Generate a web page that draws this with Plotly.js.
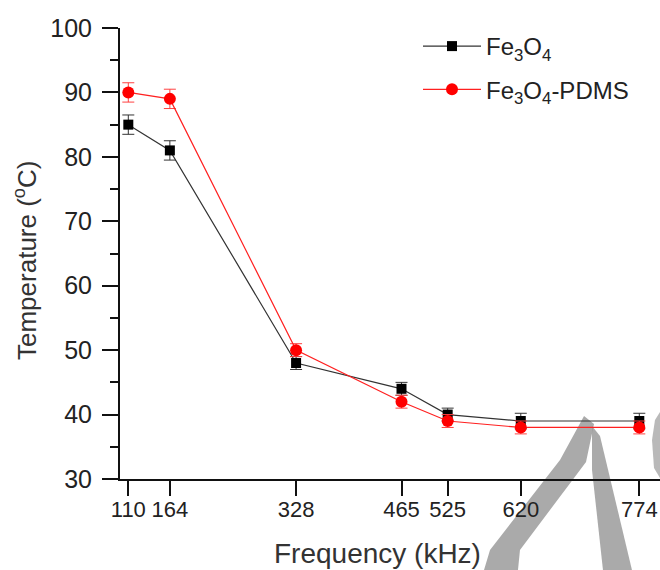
<!DOCTYPE html>
<html>
<head>
<meta charset="utf-8">
<script src="https://cdn.plot.ly/plotly-3.0.1.min.js"></script>
<style>html,body{margin:0;padding:0;background:#fff;}#chart{width:660px;height:570px;}</style>
</head>
<body>
<div id="chart"></div>
<script>
var frequency = [110, 164, 328, 465, 525, 620, 774];
var tickLabels = ["110", "164", "328", "465", "525", "620", "774"];
var fe3o4 = [85, 81, 48, 44, 40, 39, 39];
var fe3o4Err = [1.5, 1.5, 1.0, 1.0, 1.0, 1.2, 1.2];
var fe3o4Pdms = [90, 89, 50, 42, 39, 38, 38];
var fe3o4PdmsErr = [1.5, 1.5, 1.0, 1.0, 1.0, 1.0, 1.0];

var L = 120, R = 660, T = 28, B = 479;
function px(x){ return (x - L) / (R - L); }
function py(y){ return (B - y) / (B - T); }
function path(pts){
  return pts.map(function(p, i){ return (i ? 'L' : 'M') + px(p[0]).toFixed(4) + ',' + py(p[1]).toFixed(4); }).join(' ') + ' Z';
}

var font = "Arial, 'Liberation Sans', sans-serif";

var traces = [
  {
    x: frequency, y: fe3o4, name: 'Fe<sub>3</sub>O<sub>4</sub>', legendgroup: 'a',
    type: 'scatter', mode: 'lines+markers',
    line: {color: '#333333', width: 1.2},
    marker: {symbol: 'square', size: 10, color: '#000000'},
    error_y: {type: 'data', array: fe3o4Err, visible: true, color: '#333333', thickness: 1, width: 6}
  },
  {
    x: frequency, y: fe3o4Pdms, name: 'Fe<sub>3</sub>O<sub>4</sub>-PDMS', legendgroup: 'b',
    type: 'scatter', mode: 'lines+markers',
    line: {color: '#ff2020', width: 1.2},
    marker: {symbol: 'circle', size: 12, color: '#ff0000'},
    error_y: {type: 'data', array: fe3o4PdmsErr, visible: true, color: '#ff4040', thickness: 1, width: 6}
  }
];

var layout = {
  width: 660, height: 570,
  margin: {l: L, r: 660 - R, t: T, b: 570 - B, pad: 0},
  paper_bgcolor: '#ffffff', plot_bgcolor: 'rgba(0,0,0,0)',
  showlegend: true,
  legend: {
    x: px(418), y: py(24), xanchor: 'left', yanchor: 'top',
    bgcolor: 'rgba(0,0,0,0)', borderwidth: 0,
    font: {family: font, size: 24, color: '#222222'},
    itemwidth: 58, traceorder: 'grouped', tracegroupgap: 9
  },
  xaxis: {
    range: [99.2, 800.9],
    tickmode: 'array', tickvals: frequency, ticktext: tickLabels,
    tickangle: 0, automargin: false,
    showline: true, linecolor: '#111111', linewidth: 2,
    ticks: 'outside', ticklen: 15, tickwidth: 2, tickcolor: '#111111',
    ticklabelstandoff: -5,
    showgrid: false, zeroline: false,
    tickfont: {family: font, size: 22, color: '#222222'}
  },
  yaxis: {
    range: [30, 100],
    tickmode: 'linear', tick0: 30, dtick: 10,
    showline: true, linecolor: '#111111', linewidth: 2,
    ticks: 'outside', ticklen: 16, tickwidth: 2, tickcolor: '#111111',
    ticklabelstandoff: 5,
    minor: {ticks: 'outside', ticklen: 8, tickwidth: 2, tickcolor: '#111111', dtick: 5, tick0: 35},
    showgrid: false, zeroline: false,
    tickfont: {family: font, size: 25, color: '#222222'}
  },
  annotations: [
    {text: 'Frequency (kHz)', xref: 'paper', yref: 'paper', x: px(377), y: py(553),
     xanchor: 'center', yanchor: 'middle', showarrow: false,
     font: {family: font, size: 28, color: '#333333'}},
    {text: 'Temperature (<sup>o</sup>C)', xref: 'paper', yref: 'paper', x: px(25), y: py(261),
     xanchor: 'center', yanchor: 'middle', showarrow: false, textangle: -90,
     font: {family: font, size: 26, color: '#333333'}}
  ],
  shapes: [
    {type: 'path', xref: 'paper', yref: 'paper', layer: 'below', line: {width: 0},
     fillcolor: 'rgba(155,155,155,0.85)',
     path: path([[584,416],[594,424],[586,462],[520,550],[518,570],[484,570],[490,550],[560,460]])},
    {type: 'path', xref: 'paper', yref: 'paper', layer: 'below', line: {width: 0},
     fillcolor: 'rgba(155,155,155,0.85)',
     path: path([[592,426],[600,436],[632,570],[603,570],[592,470]])},
    {type: 'path', xref: 'paper', yref: 'paper', layer: 'below', line: {width: 0},
     fillcolor: 'rgba(155,155,155,0.7)',
     path: path([[660,412],[660,478],[654,468],[652,440],[655,420]])}
  ]
};

Plotly.newPlot('chart', traces, layout, {displayModeBar: false, staticPlot: true});
</script>
</body>
</html>
